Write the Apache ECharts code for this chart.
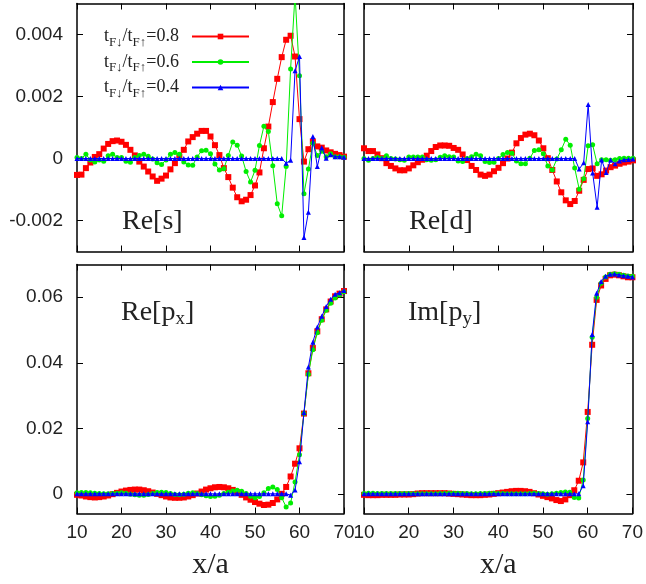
<!DOCTYPE html>
<html><head><meta charset="utf-8">
<script src="https://cdn.jsdelivr.net/npm/echarts@6/dist/echarts.min.js"></script>
<style>html,body{margin:0;padding:0;background:#fff}#c{width:646px;height:584px}</style>
</head><body><div id="c"></div>
<script>
const xs = [10,11,12,13,14,15,16,17,18,19,20,21,22,23,24,25,26,27,28,29,30,31,32,33,34,35,36,37,38,39,40,41,42,43,44,45,46,47,48,49,50,51,52,53,54,55,56,57,58,59,60,61,62,63,64,65,66,67,68,69,70];

const reS_08 = [-0.00053,-0.00052,-0.00031,-0.00013,0.00005,0.00014,0.00032,0.00047,0.00056,0.00058,
 0.00054,0.00044,0.00028,0.00010,-0.00010,-0.00026,-0.00042,-0.00058,-0.00072,-0.00065,
 -0.00055,-0.00035,-0.00015,0.00006,0.00028,0.00055,0.00069,0.00080,0.00089,0.00089,
 0.00071,0.00043,0.00011,-0.00031,-0.00060,-0.00094,-0.00125,-0.00138,-0.00133,-0.00118,
 -0.00087,-0.00045,0.00033,0.00103,0.00182,0.00257,0.00327,0.00383,0.00396,0.00329,
 0.00127,-0.00010,0.00030,0.00055,0.00039,0.00035,0.00026,0.00020,0.00015,0.00011,
 0.00006];
const reS_06 = [0.00003,0.00000,0.00014,-0.00005,-0.00011,-0.00005,-0.00009,0.00009,0.00014,0.00003,
 0.00003,-0.00009,-0.00012,0.00003,0.00010,0.00014,0.00007,-0.00002,-0.00014,-0.00019,
 -0.00005,0.00014,0.00019,0.00014,-0.00011,-0.00021,-0.00022,0.00005,0.00025,0.00027,
 0.00015,-0.00018,-0.00037,-0.00033,0.00010,0.00053,0.00043,0.00008,-0.00042,-0.00076,
 -0.00038,0.00042,0.00104,0.00087,-0.00023,-0.00146,-0.00185,-0.00026,0.00289,0.00530,
 0.00267,-0.00114,-0.00034,0.00049,0.00010,0.00023,0.00006,0.00015,0.00006,0.00006,
 0.00004];
const reS_04 = [0,0,0,0,0,0,0,0,0,0, 0,0,0,0,0,0,0,0,0,0, 0,0,0,0,0,0,0,0,0,0, 0,0,0,0,0,0,0,0,0,0,
 0,0,0,0,0,0,0,-0.00015,-0.00006,0.00283,
 0.00329,-0.00255,-0.00173,0.00071,-0.00026,0.00035,0.00001,0.00012,0.00006,0.00006,
 0.00004];

const reD_08 = [0.00033,0.00024,0.00024,0.00013,0.00001,-0.00015,-0.00024,-0.00032,-0.00038,-0.00038,
 -0.00032,-0.00022,-0.00012,-0.00004,0.00009,0.00024,0.00037,0.00042,0.00042,0.00041,
 0.00034,0.00028,0.00013,-0.00005,-0.00024,-0.00037,-0.00052,-0.00056,-0.00052,-0.00041,
 -0.00030,-0.00015,0.00000,0.00019,0.00049,0.00066,0.00077,0.00080,0.00075,0.00058,
 0.00033,0.00001,-0.00037,-0.00074,-0.00109,-0.00135,-0.00147,-0.00137,-0.00104,-0.00069,
 -0.00034,-0.00032,-0.00056,-0.00051,-0.00039,-0.00028,-0.00023,-0.00017,-0.00013,-0.00010,
 -0.00006];
const reD_06 = [0,-0.00006,0,0.00003,0,0.00009,0,-0.00002,-0.00004,-0.00006,
 0.00005,0.00005,0.00005,0.00005,-0.00004,-0.00006,-0.00004,0.00004,0.00009,0.00006,
 0.00005,-0.00008,-0.00010,0,0.00006,0.00014,0.00009,-0.00010,-0.00013,-0.00012,
 0,0.00013,0.00019,0.00017,-0.00008,-0.00017,-0.00017,0.00001,0.00026,0.00028,
 0.00015,-0.00024,-0.00037,-0.00002,0.00028,0.00062,0.00043,-0.00031,-0.00099,-0.00065,
 0.00041,0.00044,-0.00017,-0.00004,-0.00004,-0.00006,-0.00004,0,0.00001,0.00001,
 0.00001];
const reD_04 = [0,0,0,0,0,0,0,0,0,0, 0,0,0,0,0,0,0,0,0,0, 0,0,0,0,0,0,0,0,0,0, 0,0,0,0,0,0,0,0,0,0,
 0,0,0,0,0,0,0,0,-0.00034,-0.00014,
 0.00174,-0.00047,-0.00157,-0.00005,-0.00045,-0.00005,-0.00017,-0.00008,-0.00004,-0.00003,
 -0.00002];

const px_08 = [-0.0003,-0.0005,-0.0008,-0.0010,-0.0011,-0.0010,-0.0008,-0.0005,-0.0001,0.0003,
 0.0007,0.0010,0.0012,0.0013,0.0013,0.0011,0.0008,0.0004,0.0000,-0.0004,
 -0.0008,-0.0011,-0.0012,-0.0012,-0.0011,-0.0008,-0.0004,0.0001,0.0007,0.0013,
 0.0017,0.0020,0.0021,0.0020,0.0017,0.0012,0.0005,-0.0003,-0.0011,-0.0018,
 -0.0025,-0.0030,-0.0034,-0.0033,-0.0028,-0.0017,0.0000,0.0021,0.0053,0.0092,
 0.0139,0.0245,0.0368,0.0445,0.0496,0.0533,0.0563,0.0587,0.0603,0.0611,
 0.0619];
const px_06 = [0.0003,0.0004,0.0004,0.0003,0.0002,0.0001,0.0000,0.0000,0.0001,0.0002,
 0.0003,0.0002,-0.0001,-0.0003,-0.0004,-0.0004,-0.0002,0.0001,0.0004,0.0005,
 0.0004,0.0001,-0.0002,-0.0003,-0.0001,0.0002,0.0003,0.0001,-0.0003,-0.0006,
 -0.0008,-0.0007,-0.0004,0.0001,0.0005,0.0009,0.0011,0.0008,0.0001,-0.0007,
 -0.0012,-0.0008,0.0003,0.0016,0.0021,0.0013,-0.0012,-0.0040,-0.0028,0.0036,
 0.0119,0.0245,0.0365,0.0440,0.0492,0.0530,0.0560,0.0582,0.0598,0.0607,
 0.0617];
const px_04 = [0,0,0,0,0,0,0,0,0,0, 0,0,0,0,0,0,0,0,0,0, 0,0,0,0,0,0,0,0,0,0, 0,0,0,0,0,0,0,0,0,0,
 0,0,0,0,0,0,0,0,-0.0004,0.0012,
 0.0098,0.0248,0.0387,0.0463,0.0509,0.0542,0.0572,0.0594,0.0609,0.0614,
 0.0621];

const py_08 = [-0.0003,-0.0004,-0.0004,-0.0004,-0.0003,-0.0003,-0.0003,-0.0003,-0.0002,-0.0002,
 -0.0002,-0.0001,0.0001,0.0002,0.0002,0.0002,0.0002,0.0002,0.0002,0.0001,
 0.0000,-0.0001,-0.0002,-0.0003,-0.0004,-0.0004,-0.0004,-0.0003,-0.0002,0.0000,
 0.0002,0.0004,0.0006,0.0008,0.0009,0.0009,0.0008,0.0006,0.0002,-0.0002,
 -0.0006,-0.0010,-0.0014,-0.0019,-0.0022,-0.0017,-0.0004,0.0011,0.0040,0.0096,
 0.0250,0.0455,0.0592,0.0636,0.0656,0.0667,0.0669,0.0667,0.0664,0.0661,
 0.0661];
const py_06 = [0.0001,0.0002,0.0002,0.0001,0.0001,0.0001,0.0001,0.0001,0.0001,0.0001,
 0.0001,0,0,0,0,0,0,0.0001,0.0001,0.0002,
 0.0002,0.0002,0.0001,0.0001,0,0,0.0001,0.0001,0.0002,0.0002,
 0.0001,0.0001,0,0,0,0,0,0.0001,0.0002,0.0001,
 0,-0.0001,0,0.0002,0.0004,0.0006,0.0005,-0.0011,-0.0013,0.0042,
 0.0230,0.0478,0.0600,0.0643,0.0662,0.0670,0.0672,0.0670,0.0667,0.0665,
 0.0664];
const py_04 = [0,0,0,0,0,0,0,0,0,0, 0,0,0,0,0,0,0,0,0,0, 0,0,0,0,0,0,0,0,0,0, 0,0,0,0,0,0,0,0,0,0,
 0,0,0,0,0,0,0,0,0,0.0025,
 0.0220,0.0486,0.0612,0.0648,0.0664,0.0670,0.0671,0.0668,0.0666,0.0664,
 0.0662];

const xTicks = [10,20,30,40,50,60,70];
const yTicksTop = [-0.002,0,0.002,0.004];
const yTicksBottom = [0,0.02,0.04,0.06];
const seriesNames = ['t{s|F↓}/t{s|F↑}=0.8','t{s|F↓}/t{s|F↑}=0.6','t{s|F↓}/t{s|F↑}=0.4'];
const panelLabels = ['Re[s]','Re[d]','Re[p{s|x}]','Im[p{s|y}]'];

const chart = echarts.init(document.getElementById('c'), null, {renderer:'canvas'});

const grids = [
  {left:77, top:3.5, width:267, height:248},
  {left:364, top:3.5, width:269, height:248},
  {left:77, top:264.5, width:267, height:249},
  {left:364, top:264.5, width:269, height:249}
];
const yr = [[-0.003,0.005,yTicksTop],[-0.003,0.005,yTicksTop],[-0.006,0.07,yTicksBottom],[-0.006,0.07,yTicksBottom]];
const axisLine = {show:true, onZero:false, lineStyle:{color:'#000', width:1.5}};
const labelFont = {fontFamily:'Liberation Sans', fontSize:19, color:'#222'};

const xAxes = [], yAxes = [];
grids.forEach((g,i)=>{
  const bottomRow = i>=2;
  xAxes.push({type:'value', gridIndex:i, position:'bottom', min:10, max:70, interval:10,
    axisLine, splitLine:{show:false},
    axisTick:{show:true, inside:true, length:6, lineStyle:{color:'#000', width:1}},
    axisLabel:Object.assign({show:bottomRow, margin:10, showMinLabel:true, showMaxLabel:true}, labelFont),
    name: bottomRow ? 'x/a' : '', nameLocation:'middle', nameGap:37,
    nameTextStyle:{fontFamily:'Liberation Serif', fontSize:30, color:'#222'}
  });
  xAxes.push({type:'value', gridIndex:i, position:'top', min:10, max:70, interval:10,
    axisLine, splitLine:{show:false},
    axisTick:{show:true, inside:true, length:6, lineStyle:{color:'#000', width:1}},
    axisLabel:{show:false}
  });
  const leftCol = (i%2===0);
  const [mn,mx,tv] = yr[i];
  yAxes.push({type:'value', gridIndex:i, position:'left', min:mn, max:mx,
    axisLine, splitLine:{show:false},
    axisTick:{show:true, inside:true, length:6, customValues:tv, lineStyle:{color:'#000', width:1}},
    axisLabel:Object.assign({show:leftCol, margin:14, customValues:tv,
      formatter:v=> (Math.abs(v)<1e-12 ? '0' : String(+v.toPrecision(6)))}, labelFont)
  });
  yAxes.push({type:'value', gridIndex:i, position:'right', min:mn, max:mx,
    axisLine, splitLine:{show:false},
    axisTick:{show:true, inside:true, length:6, customValues:tv, lineStyle:{color:'#000', width:1}},
    axisLabel:{show:false}
  });
});

const panelData = [[reS_08,reS_06,reS_04],[reD_08,reD_06,reD_04],[px_08,px_06,px_04],[py_08,py_06,py_04]];
const colors = ['#ff0000','#00ee00','#0000ff'];
const symbols = ['rect','circle','triangle'];
const symSizes = [6,5,5];
const series = [];
panelData.forEach((sets,i)=>{
  sets.forEach((arr,k)=>{
    series.push({type:'line', name:seriesNames[k], xAxisIndex:2*i, yAxisIndex:2*i,
      data: xs.map((x,j)=>[x,arr[j]]),
      symbol:symbols[k], symbolSize:symSizes[k], showSymbol:true, showAllSymbol:true,
      color:colors[k], lineStyle:{color:colors[k], width:1}, itemStyle:{color:colors[k]},
      clip:true, z:2+k, animation:false});
  });
});

const labelPos = [[122,222],[409,222],[121,313],[408,313]];
const graphics = panelLabels.map((t,i)=>({
  type:'text', x:labelPos[i][0], y:labelPos[i][1], z:100,
  style:{text:t, fontFamily:'Liberation Serif', fontSize:28, fill:'#222', align:'left', verticalAlign:'middle',
    lineHeight:32, rich:{s:{fontFamily:'Liberation Serif', fontSize:19, fill:'#222', padding:[13,0,0,0], lineHeight:32}}}
}));

chart.setOption({
  animation:false,
  backgroundColor:'#fff',
  grid:grids,
  xAxis:xAxes,
  yAxis:yAxes,
  legend:{show:true, orient:'vertical', align:'right', right:396, top:24, padding:0, itemGap:0.5,
    itemWidth:57, itemHeight:7, data:seriesNames, selectedMode:false,
    textStyle:{fontFamily:'Liberation Serif', fontSize:18, color:'#222', lineHeight:20, padding:[0,8,0,0],
      rich:{s:{fontFamily:'Liberation Serif', fontSize:13, color:'#222', padding:[12,0,0,0], lineHeight:20}}}
  },
  series,
  graphic:graphics
});
</script></body></html>
